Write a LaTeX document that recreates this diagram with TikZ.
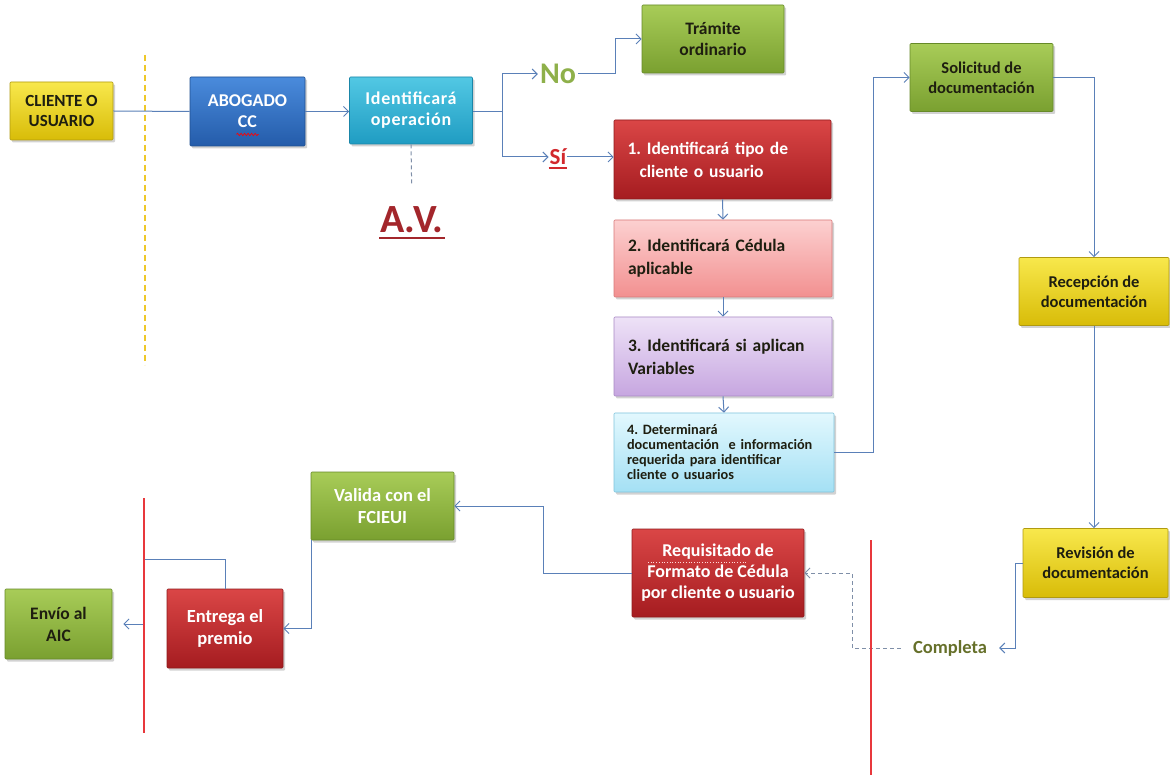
\documentclass[tikz,border=0pt]{standalone}
\usepackage{fontspec}
\setmainfont{Carlito}
\frenchspacing
\usetikzlibrary{arrows.meta,shadows,calc,decorations.pathmorphing}
\definecolor{yelT}{HTML}{F8E84C}\definecolor{yelB}{HTML}{D8BC08}\definecolor{yelD}{HTML}{B09A10}
\definecolor{bluT}{HTML}{4A8BDC}\definecolor{bluB}{HTML}{245CAA}\definecolor{bluD}{HTML}{1F4F90}
\definecolor{cyaT}{HTML}{52C8E4}\definecolor{cyaB}{HTML}{1F9CC2}\definecolor{cyaD}{HTML}{1A86A8}
\definecolor{grnT}{HTML}{A8CC58}\definecolor{grnB}{HTML}{7AA030}\definecolor{grnD}{HTML}{668A28}
\definecolor{redT}{HTML}{DA4646}\definecolor{redB}{HTML}{A51C20}\definecolor{redD}{HTML}{8E1A1C}
\definecolor{pnkT}{HTML}{FCD0D0}\definecolor{pnkB}{HTML}{F29090}\definecolor{pnkD}{HTML}{D87878}
\definecolor{lavT}{HTML}{EEE2F7}\definecolor{lavB}{HTML}{C6A6E0}\definecolor{lavD}{HTML}{A888C4}
\definecolor{ltcT}{HTML}{E2F8FE}\definecolor{ltcB}{HTML}{A4E0F4}\definecolor{ltcD}{HTML}{80C4DC}
\definecolor{conn}{HTML}{5A80B8}
\definecolor{nogreen}{HTML}{8EB04A}
\definecolor{avred}{HTML}{A3262B}
\definecolor{sired}{HTML}{D2282D}
\definecolor{complcol}{HTML}{66702A}
\definecolor{darktext}{HTML}{1E1E10}
\definecolor{dashcol}{HTML}{7F8FA8}
\definecolor{vyel}{HTML}{EEC82A}
\definecolor{vred}{HTML}{E8383C}
\begin{document}
\begin{tikzpicture}[x=1pt,y=-1pt,
  flowbox/.style={rectangle, rounded corners=1pt, line width=0.6pt, inner sep=3pt,
     align=center, font=\fontsize{16.5}{20}\selectfont\bfseries,
     drop shadow={shadow xshift=2pt, shadow yshift=-2.5pt, opacity=0.35}},
  ybox/.style={flowbox, top color=yelT, bottom color=yelB, draw=yelD, text=darktext},
  bbox/.style={flowbox, top color=bluT, bottom color=bluB, draw=bluD, text=white},
  cbox/.style={flowbox, top color=cyaT, bottom color=cyaB, draw=cyaD, text=white},
  gbox/.style={flowbox, top color=grnT, bottom color=grnB, draw=grnD, text=darktext},
  gwbox/.style={gbox, text=white},
  rbox/.style={flowbox, top color=redT, bottom color=redB, draw=redD, text=white},
  pbox/.style={flowbox, top color=pnkT, bottom color=pnkB, draw=pnkD, text=darktext},
  lbox/.style={flowbox, top color=lavT, bottom color=lavB, draw=lavD, text=darktext},
  tbox/.style={flowbox, top color=ltcT, bottom color=ltcB, draw=ltcD, text=darktext},
  stepfont/.style={font=\fontsize{17.5}{23}\selectfont\bfseries, align=left},
  bigfont/.style={font=\fontsize{18.5}{22}\selectfont\bfseries},
  cline/.style={draw=conn, line width=1pt},
  arr/.style={cline, -{Straight Barb[length=5pt,width=10pt]}},
  dline/.style={draw=dashcol, line width=1pt, dash pattern=on 4pt off 3pt},
  darr/.style={dline, -{Straight Barb[length=5pt,width=10pt]}},
  redline/.style={draw=vred, line width=1.3pt},
  yelline/.style={draw=vyel, line width=1.2pt, dash pattern=on 6pt off 4pt},
  squiggle/.style={draw=red, line width=0.7pt, decorate, decoration={snake, amplitude=1.2pt, segment length=3.5pt}}
]
\useasboundingbox (0,0) rectangle (1170,775);
\fill[white] (0,0) rectangle (1170,775);

% boxes
\node[ybox, font=\fontsize{17}{20}\selectfont\bfseries, minimum width=103pt, minimum height=58pt] (cliente) at (61.5,111) {CLIENTE O\\USUARIO};
\node[bbox, font=\fontsize{18}{21}\selectfont\bfseries, minimum width=115pt, minimum height=69pt] (abogado) at (247.5,111.5) {ABOGADO\\CC};
\node[cbox, font=\fontsize{18}{21}\selectfont\bfseries\addfontfeatures{LetterSpace=4}, minimum width=123pt, minimum height=67pt] (ident) at (411,110.5) {Identificará\\operación};
\node[gbox, font=\fontsize{17.5}{21}\selectfont\bfseries, minimum width=142pt, minimum height=68pt] (tramite) at (713,39) {Trámite\\ordinario};
\node[rbox, stepfont, text width=190pt, inner xsep=13.5pt, minimum height=79pt] (b1) at (722.5,159.5) {1. Identificará tipo de\\\hspace{12pt}cliente o usuario};
\node[pbox, stepfont, text width=190pt, inner xsep=14pt, minimum height=77pt] (b2) at (723,258.5) {2. Identificará Cédula\\aplicable};
\node[lbox, stepfont, text width=190pt, inner xsep=14pt, minimum height=79pt] (b3) at (723,356.5) {3. Identificará si aplican\\Variables};
\node[tbox, font=\fontsize{14.3}{15}\selectfont\bfseries, align=left, text width=194pt, inner xsep=13pt, minimum height=79pt] (b4) at (724,452.5) {4. Determinará\\documentación\ \ e información\\requerida para identificar\\cliente o usuarios};
\node[gbox, minimum width=143pt, minimum height=68pt] (solic) at (981.5,77.5) {Solicitud de\\documentación};
\node[ybox, minimum width=150pt, minimum height=68pt] (recep) at (1094,291.5) {Recepción de\\documentación};
\node[ybox, minimum width=145pt, minimum height=69pt] (revis) at (1095.5,563) {Revisión de\\documentación};
\node[rbox, font=\fontsize{18}{21}\selectfont\bfseries, minimum width=172pt, minimum height=88pt] (requis) at (718,573) {Requisitado de\\Formato de Cédula\\por cliente o usuario};
\node[gwbox, bigfont, minimum width=143pt, minimum height=68pt] (valida) at (382.5,506) {Valida con el\\FCIEUI};
\node[rbox, bigfont, minimum width=116pt, minimum height=79pt] (entrega) at (225,628.5) {Entrega el\\premio};
\node[gbox, font=\fontsize{17.5}{22}\selectfont\bfseries, minimum width=107pt, minimum height=70pt] (envio) at (58.5,624) {Envío al\\AIC};

% spell-check marks
\draw[squiggle] ([xshift=-11pt,yshift=-23pt]abogado.center) -- ([xshift=11pt,yshift=-23pt]abogado.center);
\draw[white!85!red, line width=0.7pt, dotted] ([xshift=-70pt,yshift=11pt]requis.center) -- ([xshift=29pt,yshift=11pt]requis.center);

% labels
\node[text=nogreen, font=\fontsize{30}{32}\selectfont\bfseries, inner sep=2pt] (no) at (558,74) {No};
\node[text=sired, font=\fontsize{23}{26}\selectfont\bfseries, inner sep=1pt] (si) at (558,157) {Sí};
\draw[sired, line width=1.5pt] ([yshift=-3pt]si.base west) -- ([yshift=-3pt]si.base east);
\node[text=avred, font=\fontsize{40}{42}\selectfont\bfseries, inner sep=1pt] (av) at (412,220) {A.V.};
\draw[avred, line width=2.5pt] ([yshift=-5pt]av.base west) -- ([yshift=-5pt]av.base east);
\node[text=complcol, font=\fontsize{18.5}{20}\selectfont\bfseries, inner xsep=12pt, inner ysep=2pt] (compl) at (950,648) {Completa};

% guide lines
\draw[yelline] (145,55) -- (145,365);

% connectors
\coordinate (split) at (502,111.5);
\coordinate (nobend) at (615,74);
\coordinate (b4bend) at (873,452.5);
\coordinate (revbend) at (1015,563);
\coordinate (cmpbend) at (852,648);
\coordinate (reqbend) at (543,573);
\coordinate (envbend) at (144,559);

\draw[cline] (cliente.east) -- (abogado.west);
\draw[arr] (abogado.east) -- (ident.west |- abogado.east);
\draw[cline] (ident.east |- split) -- (split);
\draw[arr] (split) |- (no.west);
\draw[arr] (split) |- (si.west);
\draw[arr] (no.east) -- (nobend) |- (tramite.west);
\draw[arr] (si.east) -- (b1.west |- si.east);
\draw[arr] (b1.south) -- (b2.north);
\draw[arr] (b2.south) -- (b3.north);
\draw[arr] (b3.south) -- (b4.north);
\draw[dline, shorten >=20pt] (ident.south) -- (av.north);
\draw[arr] (b4.east) -- (b4bend) |- (solic.west);
\draw[arr] (solic.east) -| (recep.north);
\draw[arr] (recep.south) -- (recep.south |- revis.north);
\draw[arr] (revis.west) -- (revbend) |- (compl.east);
\draw[darr] (compl.west) -- (cmpbend) |- (requis.east);
\draw[arr] (requis.west) -- (reqbend) |- (valida.east);
\draw[arr] ([xshift=1pt]valida.south west) |- (entrega.east);
\draw[arr, shorten >=11pt] (entrega.north) |- (envbend) |- (envio.east);

\draw[redline] (144,498) -- (144,733);
\draw[redline] (871,540) -- (871,775);
\end{tikzpicture}
\end{document}
